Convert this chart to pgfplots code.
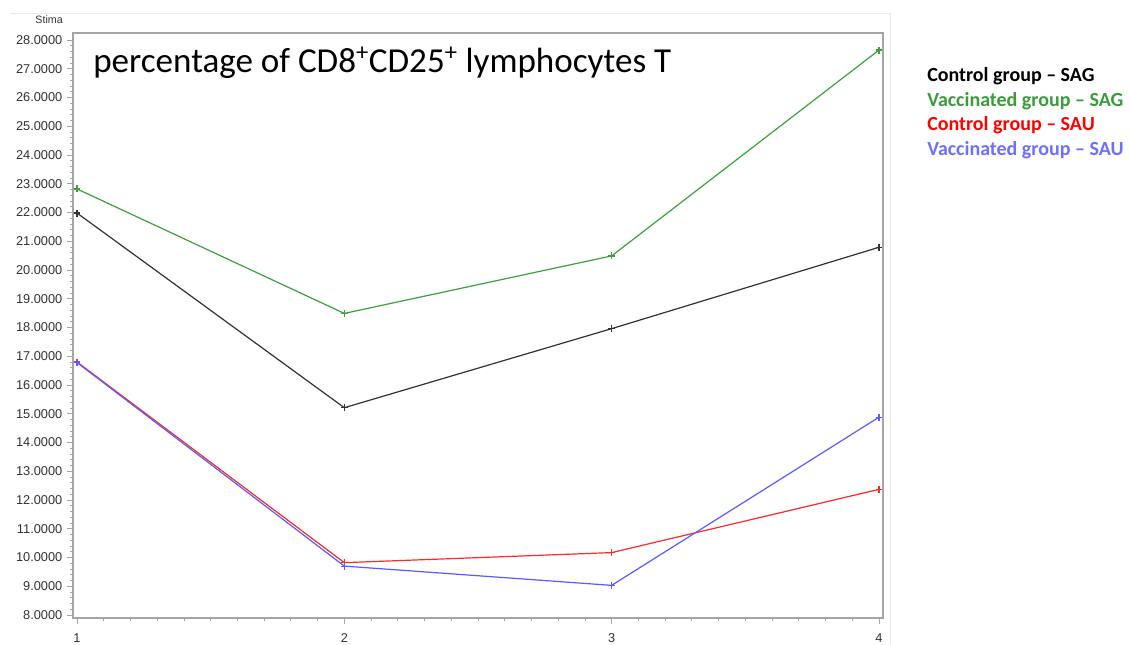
\documentclass[border=0pt]{standalone}
\usepackage{fontspec}
\setmainfont{Liberation Sans}
\newfontfamily\calibri{Carlito}
\usepackage{pgfplots}
\pgfplotsset{compat=1.18}
\definecolor{cblack}{RGB}{50,50,50}
\definecolor{cgreen}{RGB}{60,160,60}
\definecolor{cred}{RGB}{255,40,40}
\definecolor{cblue}{RGB}{90,90,255}
\definecolor{lgreen}{RGB}{60,155,60}
\definecolor{lblue}{RGB}{110,110,255}
\definecolor{axgray}{RGB}{165,165,165}
\definecolor{ticktxt}{RGB}{50,50,50}
\begin{document}
\begin{tikzpicture}
\useasboundingbox (0,0) rectangle (847.5pt,483.75pt);
\fill[white] (0,0) rectangle (847.5pt,483.75pt);
\draw[black!8] (7.5pt,474pt) -- (667.5pt,474pt) -- (667.5pt,0pt);
\begin{axis}[
  at={(54.75pt,20.25pt)}, anchor=south west,
  scale only axis, width=607.5pt, height=438.75pt,
  xmin=0.985, xmax=4.015, ymin=7.895, ymax=28.244,
  xtick={1,2,3,4}, ytick={8,9,...,28},
  minor x tick num=9, minor y tick num=4,
  tick align=outside, xtick pos=bottom, ytick pos=left,
  major tick length=4.5pt, minor tick length=2.2pt,
  axis line style={axgray, line width=0.8pt},
  every tick/.style={axgray, line width=0.6pt},
  tick label style={font=\fontsize{9.6}{10}\selectfont, text=ticktxt},
  /pgf/number format/assume math mode=true,
  yticklabel style={/pgf/number format/.cd, fixed, fixed zerofill, precision=4},
  xticklabel style={yshift=-4pt, /pgf/number format/.cd, fixed, precision=0},
  every axis plot/.append style={line width=0.9pt, mark=+, mark size=2.6pt, mark options={solid, line width=0.9pt}},
]
\addplot[cblack] coordinates {(1,21.98) (2,15.21) (3,17.96) (4,20.79)};
\addplot[cgreen] coordinates {(1,22.82) (2,18.49) (3,20.49) (4,27.65)};
\addplot[cred] coordinates {(1,16.80) (2,9.82) (3,10.17) (4,12.37)};
\addplot[cblue] coordinates {(1,16.78) (2,9.70) (3,9.03) (4,14.88)};
\end{axis}
\node[anchor=east, inner sep=0pt, font=\fontsize{8}{9}\selectfont, text=ticktxt] at (47.25pt,468.75pt) {Stima};
\node[anchor=base west, inner sep=0pt, font=\calibri\fontsize{26.3}{28}\selectfont] at (69.75pt,429.5pt) {percentage of CD8\textsuperscript{+}CD25\textsuperscript{+} lymphocytes T};
\begin{scope}[every node/.style={anchor=base west, inner sep=0pt, font=\calibri\bfseries\fontsize{15}{16}\selectfont}]
\node[text=black] at (695.25pt,422.8pt) {Control group – SAG};
\node[text=lgreen] at (695.25pt,404.0pt) {Vaccinated group – SAG};
\node[text=red] at (695.25pt,385.5pt) {Control group – SAU};
\node[text=lblue] at (695.25pt,366.8pt) {Vaccinated group – SAU};
\end{scope}
\end{tikzpicture}
\end{document}
